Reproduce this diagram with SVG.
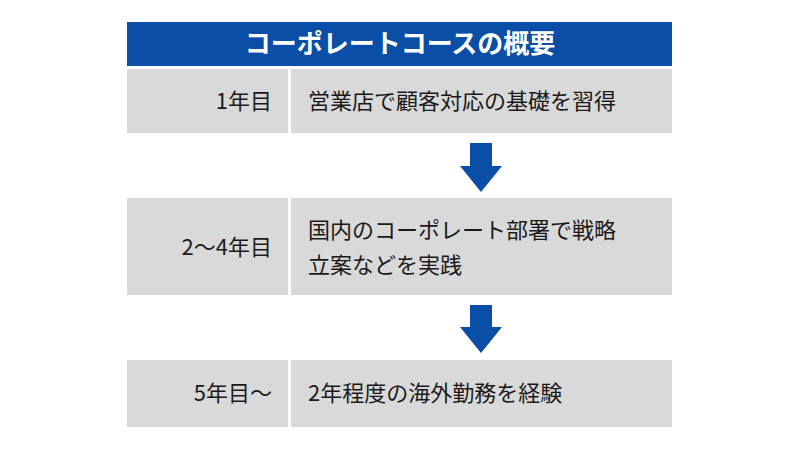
<svg xmlns="http://www.w3.org/2000/svg" width="800" height="450" viewBox="0 0 800 450">
<style>
.cell{fill:#d9d9d9}
.t{font-family:"Noto Sans CJK JP","Noto Sans",sans-serif;font-size:22px;fill:#1a1a1a}
.l{text-anchor:end}
.arr{fill:#0a4ea8}
</style>
<rect width="800" height="450" fill="#fff"/>
<g id="title">
<rect x="127" y="22" width="545" height="44" fill="#0a4ea8"/>
<text x="400" y="53" text-anchor="middle" font-family="Noto Sans CJK JP,sans-serif" font-size="26" font-weight="bold" fill="#fff">コーポレートコースの概要</text>
</g>
<g id="row1">
<rect class="cell" x="127" y="69" width="161" height="64"/>
<rect class="cell" x="291" y="69" width="381" height="64"/>
<text class="t l" x="272" y="109">1年目</text>
<text class="t" x="308" y="109">営業店で顧客対応の基礎を習得</text>
</g>
<g id="row2">
<rect class="cell" x="127" y="198" width="161" height="97"/>
<rect class="cell" x="291" y="198" width="381" height="97"/>
<text class="t l" x="272" y="255">2～4年目</text>
<text class="t" x="308" y="238">国内のコーポレート部署で戦略</text>
<text class="t" x="308" y="273">立案などを実践</text>
</g>
<g id="row3">
<rect class="cell" x="127" y="360" width="161" height="67"/>
<rect class="cell" x="291" y="360" width="381" height="67"/>
<text class="t l" x="272" y="401">5年目～</text>
<text class="t" x="308" y="401">2年程度の海外勤務を経験</text>
</g>
<g id="connectors">
<polygon class="arr" points="470,143 492,143 492,166 502,166 481,192 460,166 470,166"/>
<polygon class="arr" points="470,305 492,305 492,327 502,327 481,353 460,327 470,327"/>
</g>
</svg>
